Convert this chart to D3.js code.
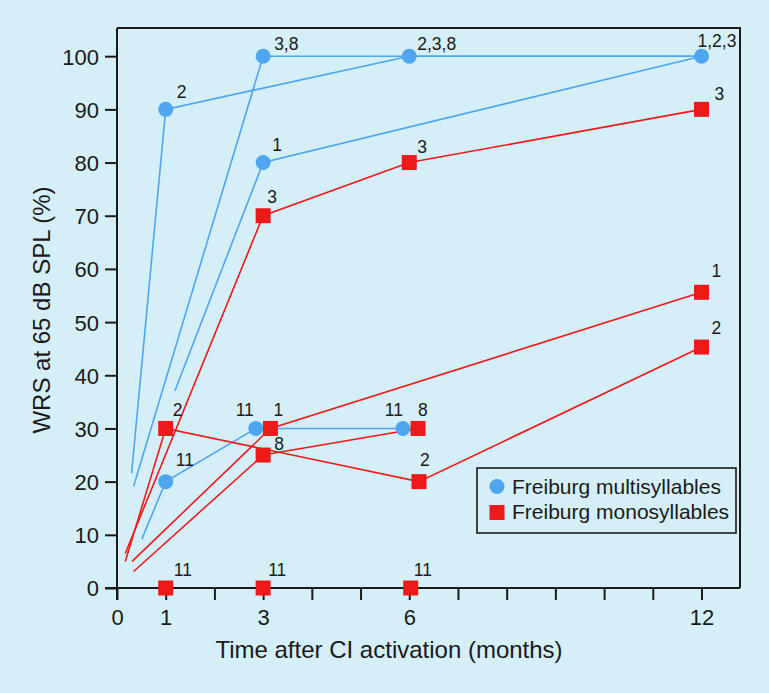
<!DOCTYPE html>
<html>
<head>
<meta charset="utf-8">
<script src="https://cdn.jsdelivr.net/npm/d3@7"></script>
<style>
  html, body { margin: 0; padding: 0; background: #d4eff7; }
  svg { display: block; font-family: "Liberation Sans", Arial, Helvetica, sans-serif; }
</style>
</head>
<body>
<svg id="chart" width="769" height="693"></svg>
<script>
// ---------------- DATA ----------------
// Freiburg multisyllables: line paths per patient group [month, WRS %]
const multiP2  = [[0.30, 21.6], [1, 90], [6, 100], [12, 100]];
const multiP38 = [[0.34, 19.1], [3, 100], [6, 100], [12, 100]];
const multiP1  = [[1.19, 37.1], [3, 80], [12, 100]];
const multiP11 = [[0.51, 9.2], [1, 20], [2.85, 30], [5.87, 30]];

// Freiburg monosyllables: line paths per patient
const monoP3 = [[0.17, 6.5], [3, 70], [6, 80], [12, 90]];
const monoP2 = [[0.17, 5.0], [1, 30], [6.2, 20], [12, 45.3]];
const monoP1 = [[0.31, 5.0], [3.15, 30], [12, 55.6]];
const monoP8 = [[0.34, 3.1], [3, 25], [6.18, 30]];

// Markers and their patient labels
const multiPoints = [[1, 90], [3, 100], [3, 80], [6, 100], [12, 100], [1, 20], [2.85, 30], [5.87, 30]];
const multiLabels = ["2", "3,8", "1", "2,3,8", "1,2,3", "11", "11", "11"];
const monoPoints = [[1, 30], [1, 0], [3, 70], [3.15, 30], [3, 25], [3, 0], [6, 80], [6.18, 30], [6.2, 20], [6.03, 0], [12, 90], [12, 55.6], [12, 45.3]];
const monoLabels = ["2", "11", "3", "1", "8", "11", "3", "8", "2", "11", "3", "1", "2"];

// Axis ticks
const xTicks = [0, 1, 2, 3, 4, 5, 6, 7, 8, 9, 10, 11, 12];
const xTickLabels = {0: "0", 1: "1", 3: "3", 6: "6", 12: "12"};
const yTicks = [0, 10, 20, 30, 40, 50, 60, 70, 80, 90, 100];
const legendLabels = ["Freiburg multisyllables", "Freiburg monosyllables"];
const xTitle = "Time after CI activation (months)";
const yTitle = "WRS at 65 dB SPL (%)";

// ---------------- LAYOUT / STYLE ----------------
const BLUE = "#4ea5f0";
const RED = "#ee1a1a";
const INK = "#1a1a1a";
const plot = {left: 117, right: 740, top: 28, bottom: 588};
const xExtent = [0, 12.79];
const yExtent = [0, 105.3];

// label offsets [dx, dy, anchor]
const multiLabelPos = [[11, -11, "start"], [11, -6, "start"], [9, -12, "start"], [8, -6, "start"],
  [-4, -9, "start"], [10, -16, "start"], [-2, -12, "end"], [0, -12, "end"]];
const monoLabelPos = [[7, -12, "start"], [8, -12, "start"], [4, -13, "start"], [3, -12, "start"],
  [11, -5, "start"], [5, -12, "start"], [8, -10, "start"], [0, -12, "start"], [1, -16, "start"],
  [3, -12, "start"], [13, -9, "start"], [10, -15, "start"], [10, -13, "start"]];

const svg = d3.select("#chart");
svg.append("rect").attr("width", 769).attr("height", 693).attr("fill", "#d4eff7");

const x = d3.scaleLinear().domain(xExtent).range([plot.left, plot.right]);
const y = d3.scaleLinear().domain(yExtent).range([plot.bottom, plot.top]);

// frame (top + right)
svg.append("path")
  .attr("d", `M${plot.left},${plot.top}H${plot.right}V${plot.bottom}`)
  .attr("fill", "none").attr("stroke", INK).attr("stroke-width", 2);

// axes
const xAxis = d3.axisBottom(x).tickValues(xTicks).tickSize(12).tickSizeOuter(0)
  .tickFormat(d => xTickLabels[d] || "");
const gx = svg.append("g").attr("transform", `translate(0,${plot.bottom})`).call(xAxis);
gx.select(".domain").attr("d", `M${plot.left - 12},0H${plot.right}`).attr("stroke", INK).attr("stroke-width", 2);
gx.selectAll(".tick line").attr("stroke", INK).attr("stroke-width", 2);
gx.selectAll(".tick text").attr("font-size", 22).attr("fill", INK).attr("font-family", "Liberation Sans, Arial, sans-serif")
  .attr("y", 37).attr("dy", 0);

const yAxis = d3.axisLeft(y).tickValues(yTicks).tickSize(12).tickSizeOuter(0).tickFormat(d3.format("d"));
const gy = svg.append("g").attr("transform", `translate(${plot.left},0)`).call(yAxis);
gy.select(".domain").attr("d", `M0,${plot.top}V${plot.bottom + 12}`).attr("stroke", INK).attr("stroke-width", 2);
gy.selectAll(".tick line").attr("stroke", INK).attr("stroke-width", 2);
gy.selectAll(".tick text").attr("font-size", 22).attr("fill", INK).attr("font-family", "Liberation Sans, Arial, sans-serif")
  .attr("x", -18).attr("dy", "0.36em");

// axis titles
svg.append("text").attr("x", 389).attr("y", 658).attr("text-anchor", "middle")
  .attr("font-size", 24).attr("fill", INK).text(xTitle);
svg.append("text").attr("transform", `translate(50,${(plot.top + plot.bottom) / 2 + 2}) rotate(-90)`)
  .attr("text-anchor", "middle").attr("font-size", 24).attr("fill", INK).text(yTitle);

// lines
const line = d3.line().x(d => x(d[0])).y(d => y(d[1]));
const gLines = svg.append("g").attr("fill", "none").attr("stroke-width", 1.6);
[multiP2, multiP38, multiP1, multiP11].forEach(p => gLines.append("path").attr("d", line(p)).attr("stroke", BLUE));
[monoP3, monoP2, monoP1, monoP8].forEach(p => gLines.append("path").attr("d", line(p)).attr("stroke", RED));

// markers
svg.append("g").selectAll("circle").data(multiPoints).join("circle")
  .attr("cx", d => x(d[0])).attr("cy", d => y(d[1])).attr("r", 7.5).attr("fill", BLUE);
const sq = 15;
svg.append("g").selectAll("rect").data(monoPoints).join("rect")
  .attr("x", d => x(d[0]) - sq / 2).attr("y", d => y(d[1]) - sq / 2)
  .attr("width", sq).attr("height", sq).attr("fill", RED);

// point labels
function addLabels(points, labels, pos) {
  svg.append("g").selectAll("text").data(points).join("text")
    .attr("x", (d, i) => x(d[0]) + pos[i][0])
    .attr("y", (d, i) => y(d[1]) + pos[i][1])
    .attr("text-anchor", (d, i) => pos[i][2])
    .attr("font-size", 17.5).attr("fill", INK)
    .text((d, i) => labels[i]);
}
addLabels(multiPoints, multiLabels, multiLabelPos);
addLabels(monoPoints, monoLabels, monoLabelPos);

// legend
const lg = svg.append("g");
lg.append("rect").attr("x", 477).attr("y", 468).attr("width", 259).attr("height", 65)
  .attr("fill", "#d4eff7").attr("stroke", INK).attr("stroke-width", 1.6);
lg.append("circle").attr("cx", 497).attr("cy", 486.5).attr("r", 7.5).attr("fill", BLUE);
lg.append("rect").attr("x", 497 - sq / 2).attr("y", 512.5 - sq / 2).attr("width", sq).attr("height", sq).attr("fill", RED);
lg.selectAll("text.lg").data(legendLabels).join("text").attr("class", "lg")
  .attr("x", 512).attr("y", (d, i) => 493.5 + i * 25.5)
  .attr("font-size", 21).attr("fill", INK).text(d => d);
</script>
</body>
</html>
